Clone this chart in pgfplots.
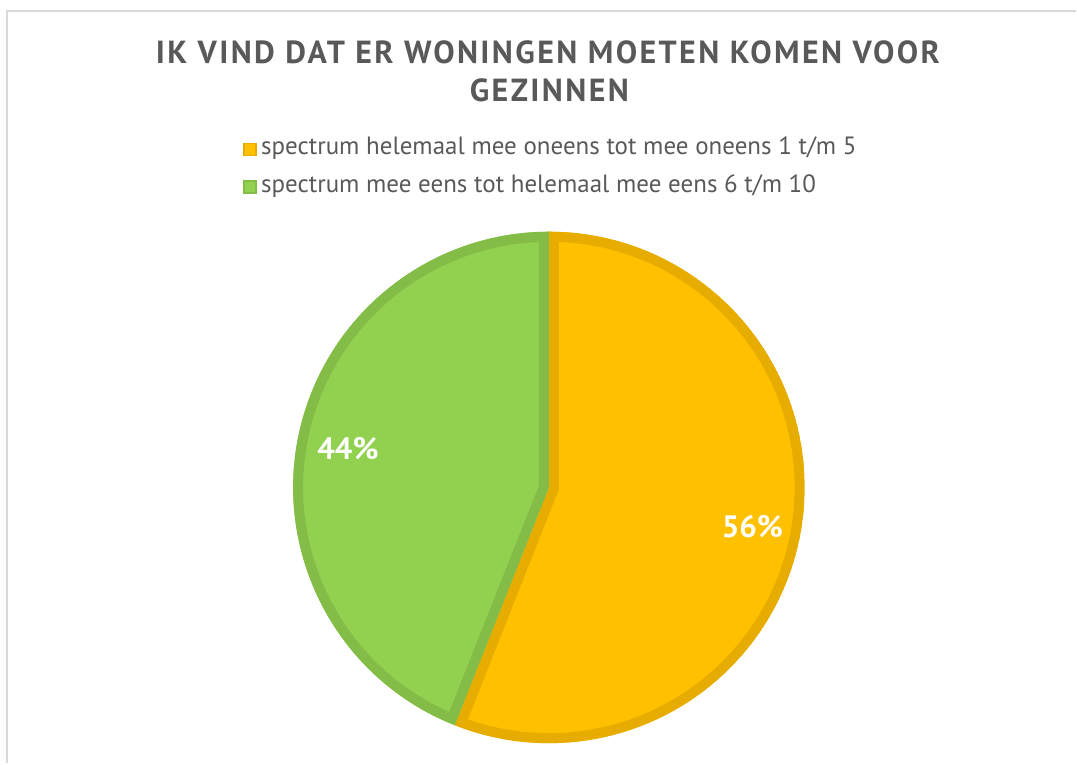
\documentclass[border=0pt]{standalone}
\usepackage{pgfplots}
\pgfplotsset{compat=1.18}
\usepackage{pgfplotstable}
\usepackage{fontspec}
\setmainfont{PT Sans}
\newfontfamily\titlefont[LetterSpace=7.5]{PT Sans}
\definecolor{orangeF}{HTML}{FFC000}
\definecolor{orangeB}{HTML}{E6AC00}
\definecolor{greenF}{HTML}{92D050}
\definecolor{greenB}{HTML}{84BC48}
\definecolor{txt}{HTML}{595959}
\definecolor{framec}{HTML}{D9D9D9}

\pgfplotstableread{
label value
oneens 56
eens 44
}\piedata

\begin{document}
\begin{tikzpicture}
\begin{scope}[x=0.5bp,y=0.5bp]
\path (0,0) rectangle (1077,764);
\draw[framec, line width=1.2bp] (7,0) -- (7,753) -- (1077,753);
\node[txt, anchor=base, inner sep=0pt, font=\titlefont\bfseries\fontsize{16bp}{18bp}\selectfont] at (548.5,700) {IK VIND DAT ER WONINGEN MOETEN KOMEN VOOR};
\node[txt, anchor=base, inner sep=0pt, font=\titlefont\bfseries\fontsize{16bp}{18bp}\selectfont] at (550,662) {GEZINNEN};
\fill[orangeF, draw=orangeB, line width=0.8bp] (244.5,608.5) rectangle (256.5,620.5);
\fill[greenF, draw=greenB, line width=0.8bp] (244.5,570.5) rectangle (256.5,582.5);
\node[txt, anchor=base west, inner sep=0pt, font=\fontsize{12.5bp}{14bp}\selectfont] at (261,609) {spectrum helemaal mee oneens tot mee oneens 1 t/m 5};
\node[txt, anchor=base west, inner sep=0pt, font=\fontsize{12.5bp}{14bp}\selectfont] at (261,571) {spectrum mee eens tot helemaal mee eens 6 t/m 10};
\end{scope}

\pgfplotstablegetelem{0}{value}\of\piedata \global\let\va\pgfplotsretval
\pgfplotstablegetelem{1}{value}\of\piedata \global\let\vb\pgfplotsretval
\pgfmathsetmacro\aS{90}
\pgfmathsetmacro\aM{90-\va*3.6}
\pgfmathsetmacro\aE{\aM-\vb*3.6}
\pgfmathsetmacro\mA{(\aS+\aM)/2}
\pgfmathsetmacro\mB{(\aM+\aE)/2}
\pgfmathsetmacro\cA{0.81*cos(\mA)}
\pgfmathsetmacro\sA{0.81*sin(\mA)}
\pgfmathsetmacro\cB{0.8*cos(\mB)}
\pgfmathsetmacro\sB{0.8*sin(\mB)}
\begin{axis}[at={(274.75bp,138bp)}, anchor=center, scale only axis,
  width=256bp, height=256bp, xmin=-1, xmax=1, ymin=-1, ymax=1,
  hide axis, clip=false]
\begin{scope}
\clip (axis cs:0,0) -- ++(\aS:128bp) arc[start angle=\aS, end angle=\aM, radius=128bp] -- cycle;
\fill[orangeF, draw=orangeB, line width=10bp] (axis cs:0,0) -- ++(\aS:128bp) arc[start angle=\aS, end angle=\aM, radius=128bp] -- cycle;
\end{scope}
\begin{scope}
\clip (axis cs:0,0) -- ++(\aM:128bp) arc[start angle=\aM, end angle=\aE, radius=128bp] -- cycle;
\fill[greenF, draw=greenB, line width=10bp] (axis cs:0,0) -- ++(\aM:128bp) arc[start angle=\aM, end angle=\aE, radius=128bp] -- cycle;
\end{scope}
\node[white, font=\bfseries\fontsize{15.5bp}{18bp}\selectfont] at (axis cs:\cA,\sA) {\va\%};
\node[white, font=\bfseries\fontsize{15.5bp}{18bp}\selectfont] at (axis cs:\cB,\sB) {\vb\%};
\end{axis}
\end{tikzpicture}
\end{document}
